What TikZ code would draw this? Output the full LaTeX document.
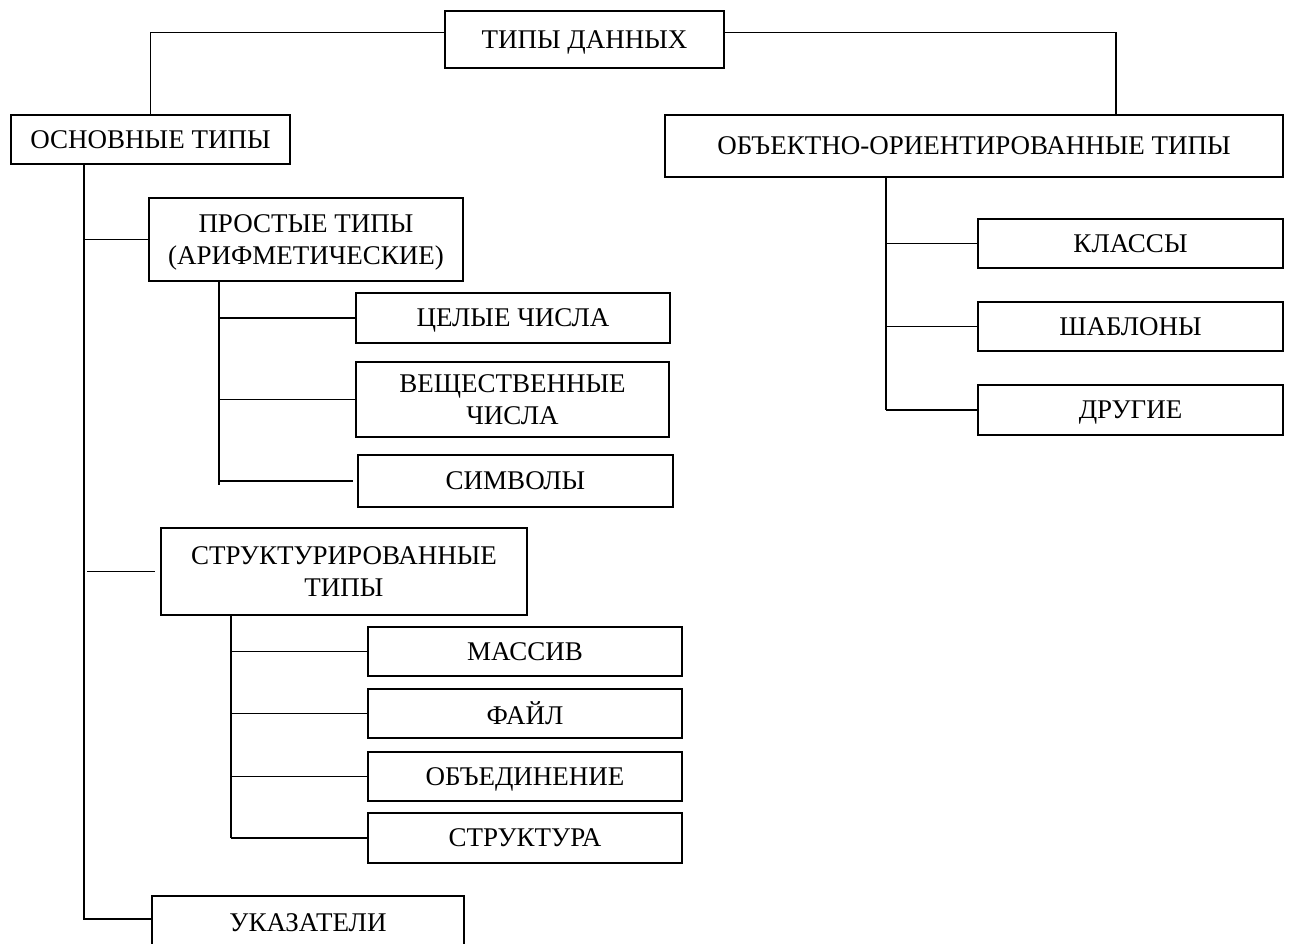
\documentclass[tikz,border=0pt]{standalone}
\usepackage{fontspec}
\setmainfont{Liberation Serif}
\tikzset{
box/.style={ % frame around every type name
draw,
line width=1.8pt,
inner sep=0pt,
align=center,
text depth=0pt, % capitals sit in the middle of the frame
font=\fontsize{27}{32}\selectfont},
link/.style={ % plain tree line, no arrow tips
line width=1.8pt}}

\begin{document}
\begin{tikzpicture}[x=1pt, y=-1pt]
\useasboundingbox (0,0) rectangle (1297,944);
% top level
\node[box, minimum width=279pt, minimum height=57pt] (types) at (584.5,39.5) {ТИПЫ ДАННЫХ};
\node[box, minimum width=279pt, minimum height=49pt] (basic) at (150.5,139.5) {ОСНОВНЫЕ ТИПЫ};
\node[box, minimum width=618pt, minimum height=62pt] (oop) at (974,146) {ОБЪЕКТНО-ОРИЕНТИРОВАННЫЕ ТИПЫ};
% basic types
\node[box, minimum width=314pt, minimum height=83pt] (simple) at (306,239.5) {ПРОСТЫЕ ТИПЫ\\(АРИФМЕТИЧЕСКИЕ)};
\node[box, minimum width=314pt, minimum height=50pt] (int) at (513,318) {ЦЕЛЫЕ ЧИСЛА};
\node[box, minimum width=313pt, minimum height=75pt] (real) at (512.5,399.5) {ВЕЩЕСТВЕННЫЕ\\ЧИСЛА};
\node[box, minimum width=315pt, minimum height=52pt] (char) at (515.5,481) {СИМВОЛЫ};
\node[box, minimum width=366pt, minimum height=87pt] (struct) at (344,571.5) {СТРУКТУРИРОВАННЫЕ\\ТИПЫ};
\node[box, minimum width=314pt, minimum height=49pt] (arr) at (525,651.5) {МАССИВ};
\node[box, minimum width=314pt, minimum height=49pt] (file) at (525,713.5) {ФАЙЛ};
\node[box, minimum width=314pt, minimum height=49pt] (union) at (525,776.5) {ОБЪЕДИНЕНИЕ};
\node[box, minimum width=314pt, minimum height=50pt] (rec) at (525,838) {СТРУКТУРА};
\node[box, minimum width=312pt, minimum height=54pt] (ptr) at (308,923) {УКАЗАТЕЛИ};
% object-oriented types
\node[box, minimum width=305pt, minimum height=49pt] (cls) at (1130.5,243.5) {КЛАССЫ};
\node[box, minimum width=305pt, minimum height=49pt] (tpl) at (1130.5,326.5) {ШАБЛОНЫ};
\node[box, minimum width=305pt, minimum height=50pt] (oth) at (1130.5,410) {ДРУГИЕ};

% trunks of the tree
\coordinate (basictrunk) at ([xshift=-66.5pt]basic.south);
\coordinate (simpletrunk) at ([xshift=-87pt]simple.south);
\coordinate (structtrunk) at ([xshift=-113pt]struct.south);
\coordinate (ooptrunk) at ([xshift=-88pt]oop.south);

\draw[link] ([yshift=7pt]types.west) -| (basic.north);
\draw[link] ([yshift=7pt]types.east) -| ([xshift=142pt]oop.north);

\draw[link] (basictrunk) |- ([yshift=4pt]ptr.west);
\draw[link] (basictrunk |- simple.west) -- (simple.west);
\draw[link, shorten <=3pt, shorten >=5pt] (basictrunk |- struct.west) -- (struct.west);

\draw[link, shorten >=-4pt] (simpletrunk) -- (simpletrunk |- char.west);
\foreach \n in {int,real} \draw[link] (simpletrunk |- \n.west) -- (\n.west);
\draw[link, shorten >=4pt] (simpletrunk |- char.west) -- (char.west);

\draw[link] (structtrunk) -- (structtrunk |- rec.west);
\foreach \n in {arr,file,union,rec} \draw[link] (structtrunk |- \n.west) -- (\n.west);

\draw[link] (ooptrunk) -- (ooptrunk |- oth.west);
\foreach \n in {cls,tpl,oth} \draw[link] (ooptrunk |- \n.west) -- (\n.west);
\end{tikzpicture}
\end{document}
